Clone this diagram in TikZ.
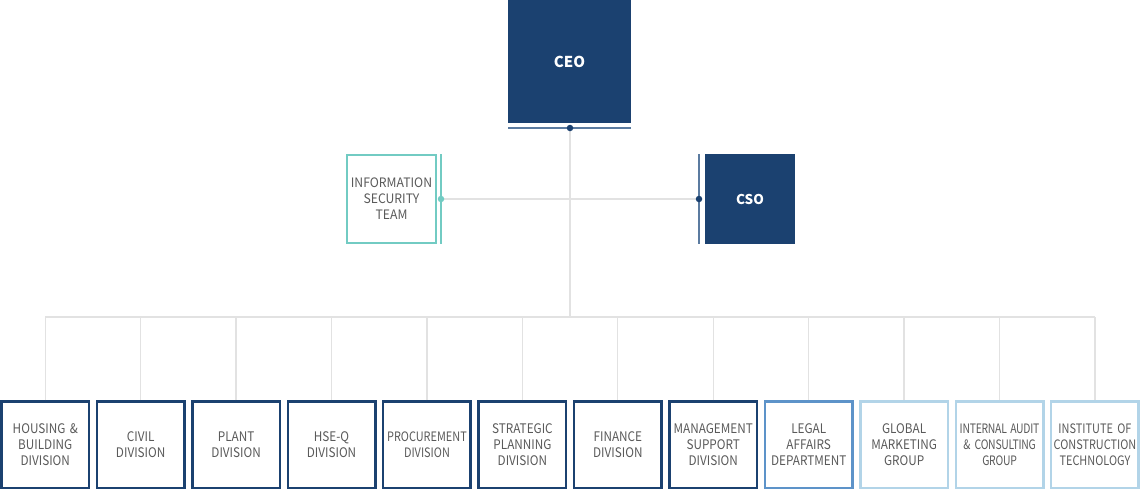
\documentclass[tikz,border=0pt]{standalone}
\usepackage{fontspec}
\setmainfont{Noto Sans CJK KR}
\newfontfamily\narrowfont{Noto Sans CJK KR}[FakeStretch=0.89]
\newfontfamily\narrowerfont{Noto Sans CJK KR}[FakeStretch=0.84]
\newfontfamily\narrowestfont{Noto Sans CJK KR}[FakeStretch=0.8,LetterSpace=-2]
\newfontfamily\teamfont{Noto Sans CJK KR}[FakeStretch=0.94]
\definecolor{navy}{HTML}{1B4170}
\definecolor{navyline}{HTML}{5B7BA0}
\definecolor{midblue}{HTML}{5D93C9}
\definecolor{lightblue}{HTML}{B2D4E8}
\definecolor{teal}{HTML}{72CBC3}
\definecolor{connector}{HTML}{E2E2E2}
\definecolor{txt}{HTML}{5A5A5A}
\tikzset{
  x=1pt,y=-1pt,
  topbox/.style={fill=navy,draw=none,text=white,font=\fontsize{15}{18}\selectfont\bfseries,inner sep=0pt},
  unitbox/.style={draw=#1,line width=2.5pt,fill=white,minimum width=87.5pt,minimum height=86.5pt,inner sep=0pt,text width=84pt,align=center,text=txt,font=\narrowfont\fontsize{13.2}{16}\selectfont},
  teambox/.style={draw=teal,line width=1.8pt,fill=white,minimum width=89pt,minimum height=88pt,inner sep=0pt,text width=86pt,align=center,text=txt,font=\teamfont\fontsize{13}{16}\selectfont},
  link/.style={draw=connector,line width=1.3pt},
  dotnode/.style={circle,fill=#1,inner sep=0pt,minimum size=6.5pt},
}
\begin{document}
\begin{tikzpicture}
\useasboundingbox (0,0) rectangle (1140,491);
% top level
\node[topbox,minimum width=123pt,minimum height=123pt] (ceo) at (569.5,61.5) {CEO};
\node[topbox,minimum width=90pt,minimum height=90pt,font=\fontsize{13.5}{16}\selectfont\bfseries] (cso) at (750,199) {CSO};
\node[teambox] (ist) at (391.5,199) {INFORMATION\\SECURITY\\TEAM};
% side bars
\coordinate (ceoL) at (508,128); \coordinate (ceoR) at (631,128);
\coordinate (istT) at (441,154); \coordinate (istB) at (441,244);
\coordinate (csoT) at (699,154); \coordinate (csoB) at (699,244);
\coordinate (hub) at (570,128);
\coordinate (istdot) at (441,199);
\coordinate (csodot) at (699,199);
\coordinate (bus) at (570,317);
% bottom units
\foreach \i/\col/\txt in {
 0/navy/{HOUSING \&\\BUILDING\\DIVISION},
 1/navy/{CIVIL\\DIVISION},
 2/navy/{PLANT\\DIVISION},
 3/navy/{HSE-Q\\DIVISION},
 4/navy/{\narrowerfont\fontsize{13}{16}\selectfont PROCUREMENT\\DIVISION},
 5/navy/{STRATEGIC\\PLANNING\\DIVISION},
 6/navy/{FINANCE\\DIVISION},
 7/navy/{MANAGEMENT\\SUPPORT\\DIVISION},
 8/midblue/{LEGAL\\AFFAIRS\\DEPARTMENT},
 9/lightblue/{GLOBAL\\MARKETING\\GROUP},
 10/lightblue/{\narrowestfont\fontsize{13}{16}\selectfont \mbox{INTERNAL\hspace{-1pt} AUDIT}\\\& CONSULTING\\GROUP},
 11/lightblue/{\narrowerfont\fontsize{13}{16}\selectfont INSTITUTE OF\\CONSTRUCTION\\TECHNOLOGY}}{
  \node[unitbox=\col] (u\i) at ({45.25+95.43*\i},444.5) {\txt};
}
% connectors
\draw[link] (hub) -- (bus);
\draw[link] (istdot) -- (csodot);
\draw[link] (u0.north |- bus) -- (u11.north |- bus);
\foreach \i in {0,...,11}{
  \draw[link] (u\i.north) -- (u\i.north |- bus);
}
\draw[navyline,line width=1.6pt] (ceoL) -- (ceoR);
\draw[teal,line width=1.4pt] (istT) -- (istB);
\draw[navyline,line width=1.6pt] (csoT) -- (csoB);
\node[dotnode=navy] at (hub) {};
\node[dotnode=teal] at (istdot) {};
\node[dotnode=navy] at (csodot) {};
\end{tikzpicture}
\end{document}
